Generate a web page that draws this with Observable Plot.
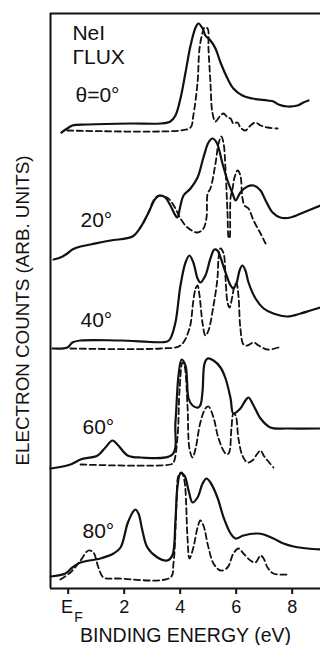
<!DOCTYPE html>
<html><head><meta charset="utf-8">
<script src="https://cdn.jsdelivr.net/npm/d3@7"></script>
<script src="https://cdn.jsdelivr.net/npm/@observablehq/plot@0.6"></script>
<style>body{margin:0;background:#fff}svg{display:block}</style>
</head><body><div id="chart"></div>
<script>
// Binding energy (eV) vs electron counts (arb. units, offset spectra)
const angles = ["θ=0°", "20°", "40°", "60°", "80°"];
const tickValues = [0, 2, 4, 6, 8];
const tickLabels = ["E", "2", "4", "6", "8"];

const solid0 = [[-0.24,456],[-0.03,460],[0.15,463],[0.69,464],[2.23,465],[3.30,465],[3.65,467],[3.83,473],[4.01,490],[4.19,516],[4.37,543],[4.55,561],[4.65,565],[4.80,560],[4.90,553],[5.08,548],[5.26,540],[5.44,526],[5.69,510],[5.90,500],[6.22,493],[6.58,490],[7.12,488],[7.33,487],[7.51,484],[7.83,482],[8.19,483],[8.40,486],[8.58,488]];
const dashed0 = [[-0.03,458],[4.01,458],[4.37,461],[4.47,473],[4.62,506],[4.69,540],[4.80,556],[4.87,561],[4.98,560],[5.01,540],[5.08,506],[5.15,476],[5.26,467],[5.44,473],[5.55,475],[5.69,471],[5.80,470],[5.90,465],[6.05,466],[6.15,461],[6.33,458],[6.51,463],[6.69,466],[6.87,463],[7.12,461],[7.48,460]];

const solid20 = [[-0.52,329],[-0.28,331],[-0.03,335],[0.15,339],[0.44,342],[0.80,344],[1.51,348],[2.30,352],[2.58,361],[2.87,376],[3.12,390],[3.29,393],[3.47,391],[3.65,383],[3.83,373],[3.90,371],[4.01,383],[4.12,393],[4.37,400],[4.62,411],[4.83,431],[5.01,446],[5.15,450],[5.30,446],[5.51,425],[5.69,408],[5.87,395],[5.98,388],[6.15,396],[6.40,402],[6.62,403],[6.87,398],[7.05,388],[7.30,376],[7.58,371],[7.94,371],[8.40,376],[9.01,383]];
const dashed20 = [[2.69,366],[2.87,376],[3.05,388],[3.22,393],[3.40,392],[3.58,390],[3.83,380],[4.01,370],[4.26,361],[4.62,356],[4.83,360],[4.94,371],[4.98,395],[5.08,400],[5.26,425],[5.37,445],[5.47,452],[5.55,445],[5.62,418],[5.69,375],[5.73,351],[5.76,350],[5.80,391],[5.87,400],[5.94,411],[6.05,418],[6.15,413],[6.22,391],[6.30,383],[6.44,380],[6.62,368],[6.87,355],[7.05,345]];

const solid40 = [[-0.56,240],[-0.03,241],[0.15,246],[0.44,248],[1.87,248],[3.54,247],[3.65,250],[3.83,266],[4.01,303],[4.19,326],[4.33,333],[4.47,326],[4.62,310],[4.72,306],[4.90,313],[5.08,330],[5.22,339],[5.33,338],[5.44,331],[5.62,316],[5.80,303],[5.90,300],[6.01,305],[6.12,318],[6.22,323],[6.33,318],[6.44,306],[6.69,290],[6.98,280],[7.33,275],[7.83,272],[8.30,275],[8.65,278],[9.01,281]];
const dashed40 = [[0.08,240],[3.30,240],[4.01,243],[4.33,260],[4.47,288],[4.55,300],[4.62,303],[4.69,293],[4.80,265],[4.90,253],[5.01,258],[5.19,283],[5.33,310],[5.37,330],[5.44,340],[5.55,335],[5.62,310],[5.69,286],[5.76,281],[5.87,293],[5.94,303],[6.01,305],[6.08,293],[6.15,260],[6.26,244],[6.40,243],[6.62,246],[6.80,243],[7.12,239],[7.51,241]];

const solid60 = [[-0.63,120],[0.08,124],[0.44,129],[1.05,133],[1.33,141],[1.58,148],[1.79,143],[2.12,133],[2.58,131],[3.72,134],[3.83,166],[3.94,213],[4.05,229],[4.19,223],[4.30,190],[4.44,183],[4.65,181],[4.73,184],[4.80,198],[4.87,225],[4.98,230],[5.19,228],[5.44,221],[5.62,210],[5.80,190],[5.90,175],[6.15,180],[6.33,188],[6.44,191],[6.62,183],[6.87,170],[7.22,161],[7.83,160],[9.01,160]];
const dashed60 = [[0.44,124],[3.65,124],[3.76,126],[3.90,150],[3.98,200],[4.08,226],[4.15,223],[4.26,183],[4.33,140],[4.44,131],[4.55,140],[4.72,166],[4.90,180],[5.01,182],[5.19,171],[5.37,150],[5.62,135],[5.73,135],[5.83,160],[5.90,175],[5.98,173],[6.08,150],[6.22,133],[6.40,126],[6.58,128],[6.76,135],[6.87,138],[6.98,133],[7.12,128],[7.33,121]];

const solid80 = [[-0.63,12],[-0.10,15],[0.15,21],[0.44,26],[1.15,30],[1.62,35],[1.87,41],[2.12,65],[2.30,76],[2.40,79],[2.51,75],[2.65,58],[2.83,41],[3.19,31],[3.54,28],[3.72,33],[3.83,68],[3.90,101],[4.01,115],[4.15,113],[4.30,98],[4.44,86],[4.62,91],[4.80,105],[4.94,110],[5.08,106],[5.33,91],[5.55,71],[5.80,55],[5.98,50],[6.26,53],[6.76,55],[6.98,54],[7.33,50],[7.69,45],[8.05,42],[8.55,40],[9.01,39]];
const dashed80 = [[-0.28,9],[0.08,16],[0.44,28],[0.72,38],[0.90,36],[1.08,21],[1.26,11],[1.76,10],[3.65,11],[3.76,25],[3.87,85],[3.94,113],[4.05,116],[4.15,108],[4.26,51],[4.33,30],[4.47,41],[4.62,61],[4.72,68],[4.83,63],[5.01,41],[5.19,25],[5.44,18],[5.69,21],[5.90,35],[6.08,40],[6.26,35],[6.51,28],[6.69,26],[6.87,33],[6.98,30],[7.12,21],[7.33,15],[7.83,14]];

const solids = [solid0, solid20, solid40, solid60, solid80];
const dashes = [dashed0, dashed20, dashed40, dashed60, dashed80];
const toRows = (arr) => arr.flatMap((c, i) => c.map(([e, v]) => ({e, v, k: angles[i]})));
const solidRows = toRows(solids);
const dashRows = toRows(dashes);

const labelRows = [
  {t: "NeI", e: 0.15, v: 555},
  {t: "ΓLUX", e: 0.15, v: 531},
  {t: angles[0], e: 0.26, v: 493},
  {t: angles[1], e: 0.44, v: 368},
  {t: angles[2], e: 0.44, v: 268},
  {t: angles[3], e: 0.51, v: 161},
  {t: angles[4], e: 0.51, v: 57}
];
const ink = "#111";
const xMin = -0.632, xMax = 9.011;

const chart = Plot.plot({
  width: 320, height: 645,
  marginLeft: 50, marginRight: 0, marginTop: 13, marginBottom: 57,
  x: {domain: [xMin, xMax], axis: null},
  y: {domain: [0, 575], axis: null},
  style: {fontFamily: "'Liberation Sans', Arial, sans-serif", background: "#fff", color: ink},
  marks: [
    Plot.ruleY([0, 575], {stroke: ink, strokeWidth: 2}),
    Plot.ruleX([xMin], {stroke: ink, strokeWidth: 2}),
    Plot.ruleX(tickValues, {y1: 0, y2: -6, stroke: ink, strokeWidth: 2}),
    Plot.text(tickValues, {x: d => d + (d === 0 ? -0.04 : 0), y: -19, text: (d, i) => tickLabels[i], fontSize: 18, fill: ink}),
    Plot.text(["F"], {x: 0.37, y: -29, text: d => d, fontSize: 14, fill: ink}),
    Plot.text(["BINDING ENERGY (eV)"], {x: 4.19, y: -47, text: d => d, fontSize: 19.5, fill: ink}),
    Plot.text(["ELECTRON COUNTS (ARB. UNITS)"], {x: -1.60, y: 278, text: d => d, rotate: -90, fontSize: 18.8, fill: ink}),
    Plot.text(labelRows, {x: "e", y: "v", text: "t", textAnchor: "start", fontSize: 21, fill: ink}),
    Plot.line(solidRows, {x: "e", y: "v", z: "k", curve: "catmull-rom", stroke: ink, strokeWidth: 2.2}),
    Plot.line(dashRows, {x: "e", y: "v", z: "k", curve: "catmull-rom", stroke: ink, strokeWidth: 1.8, strokeDasharray: "6,3.5"})
  ]
});
document.getElementById("chart").appendChild(chart);
</script>
</body></html>
